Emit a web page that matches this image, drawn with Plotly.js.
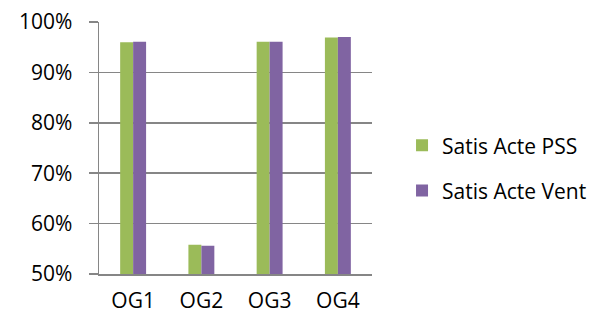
<!DOCTYPE html>
<html><head><meta charset="utf-8">
<script src="https://cdn.plot.ly/plotly-3.0.1.min.js"></script>
<style>html,body{margin:0;padding:0;background:#fff}#c{width:613px;height:322px}</style>
</head><body><div id="c"></div>
<script>
const categories = ['OG1', 'OG2', 'OG3', 'OG4'];
const satisActePSS = [96.0, 55.8, 96.1, 96.9];
const satisActeVent = [96.1, 55.6, 96.1, 97.0];
const seriesNames = ['Satis Acte PSS', 'Satis Acte Vent'];
const yTicks = [50, 60, 70, 80, 90, 100];

const font = {family: 'Open Sans, Liberation Sans, sans-serif', size: 21, color: '#000'};
const traces = [
  {type: 'bar', name: seriesNames[0], x: categories, y: satisActePSS, marker: {color: '#9BBB59'}, legendgroup: 'a'},
  {type: 'bar', name: seriesNames[1], x: categories, y: satisActeVent, marker: {color: '#8064A2'}, legendgroup: 'b'}
];
const layout = {
  width: 613, height: 322,
  margin: {l: 99, r: 241, t: 22, b: 48},
  paper_bgcolor: '#fff', plot_bgcolor: '#fff',
  font: font,
  barmode: 'group', bargap: 0.62, bargroupgap: 0,
  xaxis: {showline: true, linecolor: '#868686', linewidth: 1.5, ticks: '', showgrid: false, tickfont: font, ticklen: 0, ticklabelstandoff: 7},
  yaxis: {range: [50, 100], tickvals: yTicks, ticktext: yTicks.map(v => v + '%'),
          showline: true, linecolor: '#868686', linewidth: 1.5, gridcolor: '#868686', gridwidth: 1.5,
          ticks: 'outside', ticklen: 9, tickcolor: '#868686', tickwidth: 1.5, zeroline: false, tickfont: font,
          ticklabelstandoff: 12, fixedrange: true},
  showlegend: true,
  legend: {x: 1.11, y: 0.42, xanchor: 'left', yanchor: 'middle', traceorder: 'grouped', tracegroupgap: 15,
           font: font, itemwidth: 30}
};
Plotly.newPlot('c', traces, layout, {displayModeBar: false, staticPlot: true});
</script></body></html>
